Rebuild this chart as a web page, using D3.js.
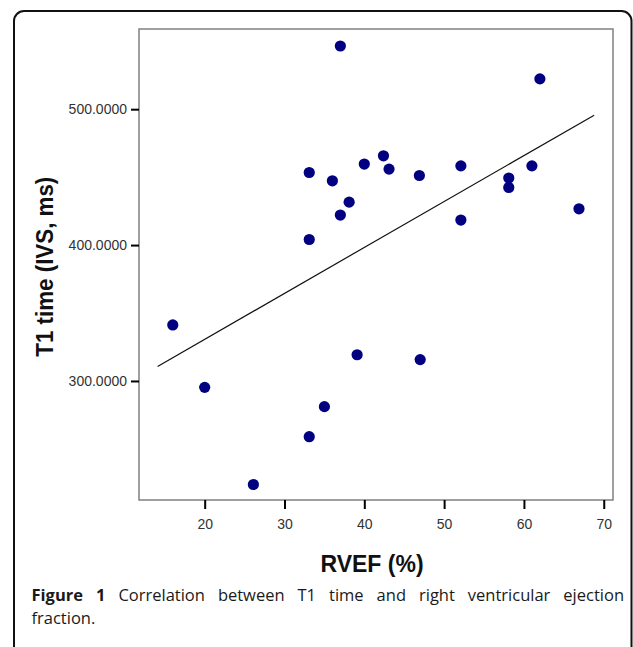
<!DOCTYPE html>
<html>
  <head>
    <meta charset="utf-8" />
    <title>T1 time vs RVEF</title>
    <script src="https://d3js.org/d3.v7.min.js"></script>
    <style>

      body {
        margin: 0;
        background: white;
      }

    </style>
  </head>
  <body>

    <svg id="viz"></svg>

    <script>

      // RVEF (%) and T1 time (IVS, ms)
      var rvef = [37.0, 33.1, 36.0, 40.0, 38.1, 37.0, 33.1, 42.4, 43.1, 46.9, 52.1, 52.1,
                  58.1, 58.1, 61.0, 62.0, 66.9, 16.0, 20.0, 39.1, 35.0, 33.1, 26.1, 47.0];
      var t1 = [546.5, 453.4, 447.3, 459.6, 431.6, 422.1, 404.1, 465.7, 455.9, 451.2, 458.3, 418.4,
                449.3, 442.4, 458.3, 522.3, 426.7, 341.2, 295.3, 319.3, 281.1, 259.0, 223.8, 315.7];

      // fitted line end points
      var fitX = [14.1, 68.8];
      var fitY = [310.7, 495.6];

      var xTicks = [20, 30, 40, 50, 60, 70];
      var yTicks = [300, 400, 500];

      var xTitle = "RVEF (%)";
      var yTitle = "T1 time (IVS, ms)";
      var captionBold = "Figure 1";
      var captionLine1 = " Correlation between T1 time and right ventricular ejection";
      var captionLine2 = "fraction.";

      var width = 633;
      var height = 647;

      var svg = d3.select("#viz")
        .attr("width", width)
        .attr("height", height);

      // outer figure box
      svg.append("rect")
        .attr("x", 14)
        .attr("y", 11)
        .attr("width", 617.5)
        .attr("height", 700)
        .attr("rx", 10)
        .attr("fill", "none")
        .attr("stroke", "#111")
        .attr("stroke-width", 2);

      var plot = { left: 139, right: 613, top: 29, bottom: 500 };

      var x = d3.scaleLinear()
        .domain([11.77, 71.16])
        .range([plot.left, plot.right]);

      var y = d3.scaleLinear()
        .domain([212.4, 559.0])
        .range([plot.bottom, plot.top]);

      // plot frame
      svg.append("rect")
        .attr("x", plot.left)
        .attr("y", plot.top)
        .attr("width", plot.right - plot.left)
        .attr("height", plot.bottom - plot.top)
        .attr("fill", "white")
        .attr("stroke", "#808080")
        .attr("stroke-width", 1.5);

      var xAxis = svg.append("g")
        .attr("transform", "translate(0," + plot.bottom + ")")
        .call(d3.axisBottom(x).tickValues(xTicks).tickSize(9).tickPadding(10));

      var yAxis = svg.append("g")
        .attr("transform", "translate(" + plot.left + ",0)")
        .call(d3.axisLeft(y).tickValues(yTicks).tickFormat(d3.format(".4f")).tickSize(8).tickPadding(4));

      [xAxis, yAxis].forEach(function(g) {
        g.select(".domain").remove();
        g.selectAll(".tick line")
          .attr("stroke", "#000")
          .attr("stroke-width", 2);
        g.selectAll(".tick text")
          .attr("fill", "#333")
          .attr("font-family", "Liberation Sans, Arial, sans-serif")
          .attr("font-size", "14px");
      });

      // fit line
      var line = d3.line()
        .x(function(d) { return x(d[0]); })
        .y(function(d) { return y(d[1]); });

      svg.append("path")
        .datum(d3.zip(fitX, fitY))
        .attr("d", line)
        .attr("fill", "none")
        .attr("stroke", "#111")
        .attr("stroke-width", 1.2);

      // points
      svg.selectAll("circle.pt")
        .data(d3.zip(rvef, t1))
        .enter().append("circle")
        .attr("class", "pt")
        .attr("cx", function(d) { return x(d[0]); })
        .attr("cy", function(d) { return y(d[1]); })
        .attr("r", 5.6)
        .attr("fill", "#000080");

      // axis titles
      svg.append("text")
        .attr("x", 372)
        .attr("y", 572)
        .attr("text-anchor", "middle")
        .attr("font-family", "Liberation Sans, Arial, sans-serif")
        .attr("font-weight", "bold")
        .attr("font-size", "23px")
        .attr("fill", "#111")
        .text(xTitle);

      svg.append("text")
        .attr("transform", "translate(53,266.7) rotate(-90)")
        .attr("text-anchor", "middle")
        .attr("font-family", "Liberation Sans, Arial, sans-serif")
        .attr("font-weight", "bold")
        .attr("font-size", "23px")
        .attr("textLength", 180)
        .attr("lengthAdjust", "spacingAndGlyphs")
        .attr("fill", "#111")
        .text(yTitle);

      // caption, first line justified to the box width
      var capLeft = 31.5;
      var capRight = 624;

      var cap1 = svg.append("text")
        .attr("x", capLeft)
        .attr("y", 601)
        .attr("font-family", "Open Sans, Noto Sans, sans-serif")
        .attr("font-size", "16.5px")
        .attr("fill", "#1a1a1a");

      cap1.append("tspan")
        .attr("font-weight", "bold")
        .text(captionBold);

      cap1.append("tspan")
        .text(captionLine1);

      var natural = cap1.node().getComputedTextLength();
      var spaces = (captionBold + captionLine1).split(" ").length - 1;
      cap1.attr("word-spacing", ((capRight - capLeft) - natural) / spaces);

      svg.append("text")
        .attr("x", capLeft)
        .attr("y", 624)
        .attr("font-family", "Open Sans, Noto Sans, sans-serif")
        .attr("font-size", "16.5px")
        .attr("fill", "#1a1a1a")
        .text(captionLine2);

    </script>
  </body>
</html>
